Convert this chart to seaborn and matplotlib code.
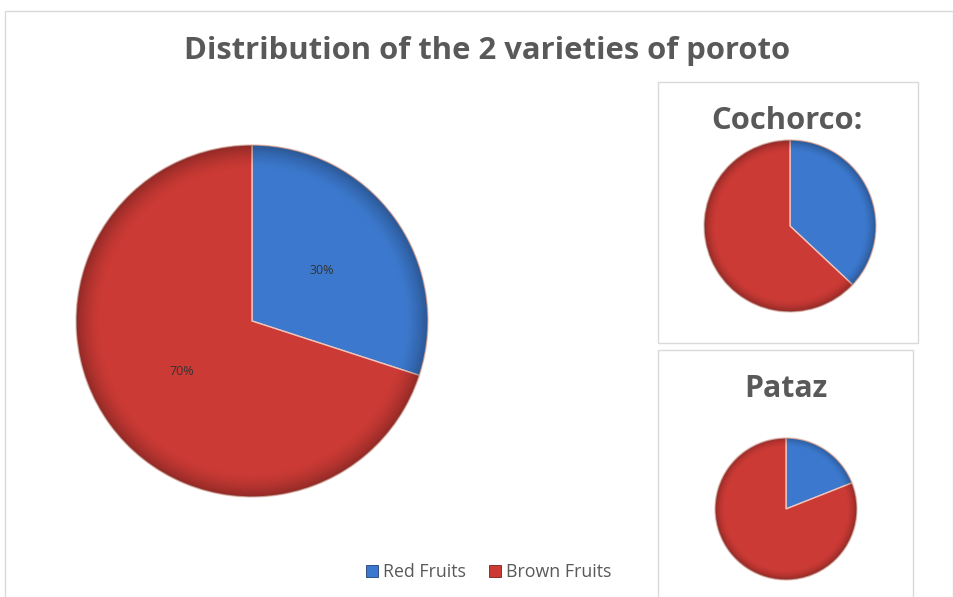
import numpy as np
import matplotlib
matplotlib.use("Agg")
import matplotlib.pyplot as plt
from matplotlib.patches import Rectangle, Patch, Circle
import seaborn as sns

# Data
categories = ["Red Fruits", "Brown Fruits"]
overall = [30, 70]
cochorco = [37, 63]
pataz = [19, 81]
title = "Distribution of the 2 varieties of poroto"
sub_titles = ["Cochorco:", "Pataz"]

sns.set_theme(style="white")
plt.rcParams["font.family"] = ["Open Sans", "DejaVu Sans"]

W, H = 954, 597
colors = ["#3c79ce", "#cb3a35"]
edge_dark = ["#1f3f73", "#7a1f1c"]

fig = plt.figure(figsize=(W / 100, H / 100), dpi=100)
fig.patch.set_facecolor("white")


def px_axes(cx, cy, r):
    """Axes placed in pixel space, centred on (cx, cy) with radius r."""
    m = 1.04
    side = 2 * r * m
    ax = fig.add_axes([(cx - side / 2) / W, 1 - (cy + side / 2) / H, side / W, side / H])
    return ax, m


def shade(ax):
    # darker rim for a bevelled look
    n = 400
    g = np.linspace(-1, 1, n)
    xx, yy = np.meshgrid(g, g)
    rr = np.sqrt(xx ** 2 + yy ** 2)
    alpha = np.clip((rr - 0.86) / 0.14, 0, 1) ** 1.6 * 0.28
    img = np.zeros((n, n, 4))
    img[..., 3] = alpha
    im = ax.imshow(img, extent=(-1, 1, -1, 1), origin="lower", zorder=3)
    im.set_clip_path(Circle((0, 0), 1.0, transform=ax.transData))


def draw_pie(ax, m, values, pct=False):
    kw = {}
    if pct:
        kw = dict(autopct=lambda p: f"{p:.0f}%", pctdistance=0.49,
                  textprops=dict(fontsize=9, color="#333333"))
    res = ax.pie(values, colors=colors, startangle=90, counterclock=False,
                 radius=1.0, wedgeprops=dict(edgecolor="#f0c4bb", linewidth=1.0), **kw)
    if pct:
        for t in res[2]:
            t.set_zorder(5)
    shade(ax)
    ax.set_xlim(-m, m)
    ax.set_ylim(-m, m)
    ax.set_aspect("equal")
    ax.axis("off")


# Main pie
ax_main, m = px_axes(252, 321, 176)
draw_pie(ax_main, m, overall, pct=True)

# Small pies
ax_c, m = px_axes(790, 226, 86)
draw_pie(ax_c, m, cochorco)
ax_p, m = px_axes(786, 509, 71)
draw_pie(ax_p, m, pataz)

# Frames
def fig_rect(x0, y0, x1, y1, color="#d9d9d9", lw=1.0):
    fig.patches.append(Rectangle((x0 / W, 1 - y1 / H), (x1 - x0) / W, (y1 - y0) / H,
                                 transform=fig.transFigure, fill=False,
                                 edgecolor=color, linewidth=lw, zorder=0))

fig_rect(5, 11, 953, 600)
fig_rect(658, 82, 918, 343)
fig_rect(658, 350, 913, 602)

# Titles
fig.text(487 / W, 1 - 51 / H, title, ha="center", va="center",
         fontsize=22.3, fontweight="bold", color="#595959")
fig.text(787 / W, 1 - 121 / H, sub_titles[0], ha="center", va="center",
         fontsize=22.3, fontweight="bold", color="#595959")
fig.text(786 / W, 1 - 389 / H, sub_titles[1], ha="center", va="center",
         fontsize=21.8, fontweight="bold", color="#595959")

# Legend
handles = [Patch(facecolor=c, edgecolor=e, linewidth=0.6) for c, e in zip(colors, edge_dark)]
fig.legend(handles, categories, loc="center", bbox_to_anchor=(489 / W, 1 - 572 / H),
           ncol=2, frameon=False, handlelength=0.65, handleheight=0.65,
           handletextpad=0.3, columnspacing=1.3,
           prop=dict(size=12.8), labelcolor="#595959")

fig.savefig("out.png", dpi=100, facecolor="white")
